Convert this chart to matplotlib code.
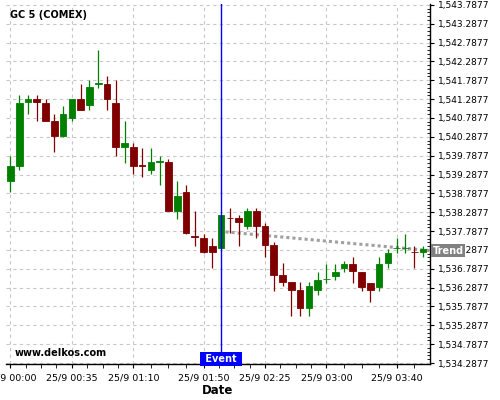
import numpy as np
import matplotlib
matplotlib.use('Agg')
import matplotlib.pyplot as plt
import matplotlib.transforms as mtransforms
from matplotlib.ticker import FixedLocator, FuncFormatter

# 5-minute candles, 25/9 00:00 .. 03:55
opens = [1539.12, 1539.516, 1541.20, 1541.296, 1541.19, 1540.717, 1540.296, 1540.797,
         1541.296, 1541.121, 1541.691, 1541.691, 1541.19, 1540.007, 1540.007, 1539.533,
         1539.41, 1539.63, 1539.612, 1538.332, 1538.823, 1537.647, 1537.612, 1537.402,
         1537.332, 1538.139, 1538.121, 1537.92, 1538.332, 1537.91, 1537.41, 1536.621,
         1536.428, 1536.226, 1535.735, 1536.215, 1536.506, 1536.603, 1536.815, 1536.912,
         1536.709, 1536.418, 1536.313, 1536.93, 1537.326, 1537.326, 1537.238, 1537.221]
highs = [1539.779, 1541.393, 1541.393, 1541.393, 1541.279, 1540.893, 1541.103, 1541.296,
         1541.682, 1541.787, 1542.603, 1541.893, 1541.787, 1540.709, 1540.112, 1539.998,
         1539.998, 1539.788, 1539.70, 1539.104, 1538.998, 1538.314, 1537.718, 1537.595,
         1538.226, 1538.402, 1538.226, 1538.402, 1538.402, 1538.007, 1537.507, 1536.928,
         1536.428, 1536.428, 1536.428, 1536.70, 1536.912, 1536.903, 1537.0, 1537.097,
         1536.709, 1536.418, 1537.106, 1537.309, 1537.60, 1537.714, 1537.379, 1537.388]
lows = [1538.814, 1539.40, 1540.893, 1540.709, 1540.70, 1539.893, 1540.279, 1540.70,
        1540.99, 1540.99, 1541.594, 1540.99, 1539.779, 1539.603, 1539.288, 1539.209,
        1539.288, 1538.998, 1538.314, 1538.104, 1537.709, 1537.402, 1537.208, 1536.814,
        1537.332, 1537.744, 1537.393, 1537.832, 1537.604, 1537.112, 1536.209, 1536.323,
        1535.533, 1535.533, 1535.533, 1536.083, 1536.418, 1536.48, 1536.70, 1536.41,
        1536.189, 1535.907, 1536.198, 1536.806, 1537.203, 1537.203, 1536.797, 1537.097]
closes = [1539.507, 1541.19, 1541.296, 1541.20, 1540.717, 1540.296, 1540.902, 1541.296,
          1541.007, 1541.612, 1541.726, 1541.296, 1540.007, 1540.112, 1539.516, 1539.516,
          1539.612, 1539.647, 1538.332, 1538.718, 1537.726, 1537.63, 1537.226, 1537.226,
          1538.226, 1538.121, 1538.024, 1538.332, 1537.92, 1537.419, 1536.63, 1536.446,
          1536.235, 1535.735, 1536.331, 1536.498, 1536.524, 1536.709, 1536.912, 1536.718,
          1536.313, 1536.215, 1536.921, 1537.212, 1537.344, 1537.344, 1537.221, 1537.309]

tick_pos = [0, 7, 14, 22, 29, 36, 44]
tick_labels = ['25/9 00:00', '25/9 00:35', '25/9 01:10', '25/9 01:50',
               '25/9 02:25', '25/9 03:00', '25/9 03:40']

event_idx = 24
trend_x = [24.5, 47.8]
trend_y = [1537.767, 1537.27]

UP = '#008000'
DOWN = '#800000'

fig = plt.figure(figsize=(5, 4), dpi=100)
ax = fig.add_axes([0.012, 0.09, 0.848, 0.9])

x = np.arange(len(opens))
o = np.array(opens)
c = np.array(closes)
colors = [UP if cc >= oo else DOWN for oo, cc in zip(o, c)]

ax.vlines(x, lows, highs, colors=colors, linewidth=0.9, zorder=3)
ax.bar(x, c - o, bottom=o, width=0.76, color=colors, edgecolor=colors,
       linewidth=0.6, zorder=4)

ax.plot(trend_x, trend_y, color='#a0a0a0', linestyle=(0, (1, 1)), linewidth=2.2, zorder=2)
ax.axvline(event_idx, color='#0000ff', linewidth=1, zorder=5)

ax.set_xlim(-0.5, 47.8)
ax.set_ylim(1534.262, 1543.81)

# axes styling
for side in ['left', 'top']:
    ax.spines[side].set_visible(False)
ax.spines['bottom'].set_linewidth(1)
ax.spines['right'].set_linewidth(1)

ax.yaxis.tick_right()
ax.yaxis.set_major_locator(FixedLocator(np.arange(1534.2877, 1543.8, 0.5)))
ax.yaxis.set_minor_locator(FixedLocator(np.arange(1534.2877, 1543.8, 0.1)))
ax.yaxis.set_major_formatter(FuncFormatter(lambda v, p: '{:,.4f}'.format(v)))
ax.tick_params(axis='y', which='major', direction='out', length=3, width=0.8,
               labelsize=6.5, pad=3)
ax.tick_params(axis='y', which='minor', direction='in', length=2, width=0.6)

ax.set_xticks(tick_pos)
ax.set_xticklabels(tick_labels)
minor_x = []
for a, b in zip(tick_pos[:-1], tick_pos[1:]):
    minor_x += list(np.linspace(a, b, 5)[1:-1])
minor_x += [46]
ax.xaxis.set_minor_locator(FixedLocator(minor_x))
ax.tick_params(axis='x', which='major', direction='out', length=3, width=0.8,
               labelsize=6.8, pad=4)
ax.tick_params(axis='x', which='minor', direction='out', length=3, width=0.6)

ax.grid(True, which='major', color='#c8c8c8', linestyle=(0, (3, 3)), linewidth=0.8)
ax.set_axisbelow(True)

ax.set_xlabel('Date', fontsize=8.5, fontweight='bold', labelpad=1)

ax.text(0.01, 0.969, 'GC 5 (COMEX)', transform=ax.transAxes, fontsize=7,
        fontweight='bold', ha='left', va='center')
ax.text(0.021, 0.031, 'www.delkos.com', transform=ax.transAxes, fontsize=7,
        fontweight='bold', ha='left', va='center')

ax.text(event_idx, 1534.262, ' Event ', color='white', fontsize=7, fontweight='bold',
        ha='center', va='bottom', zorder=6,
        bbox=dict(boxstyle='square,pad=0.22', facecolor='#0000ff', edgecolor='none'))

trans = mtransforms.blended_transform_factory(ax.transAxes, ax.transData)
ax.text(1.006, trend_y[-1], 'Trend', transform=trans, color='white', fontsize=7,
        fontweight='bold', ha='left', va='center', zorder=6, clip_on=False,
        bbox=dict(boxstyle='square,pad=0.15', facecolor='#808080', edgecolor='none'))

fig.savefig('out.png', dpi=100)
